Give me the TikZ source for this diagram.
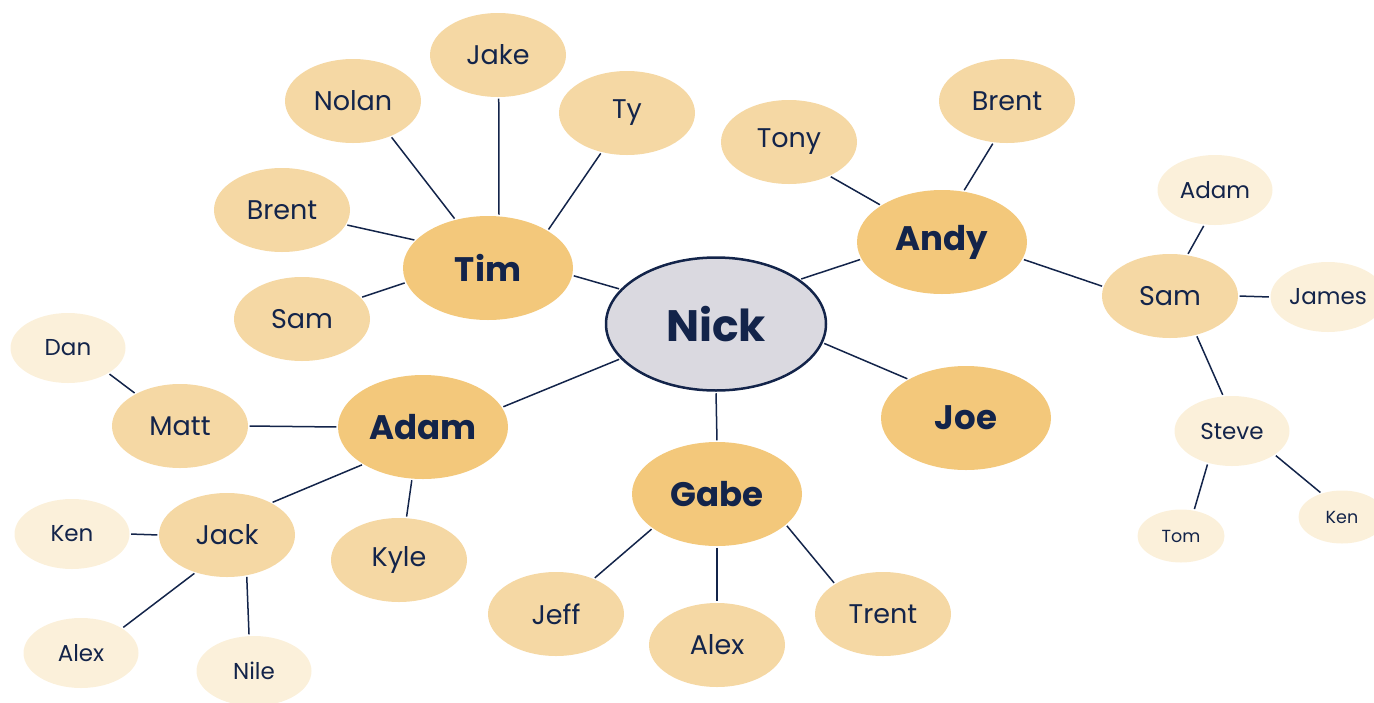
\documentclass[tikz,border=0pt]{standalone}
\usepackage{fontspec}
\setmainfont{Poppins}
\usetikzlibrary{shapes.geometric}
\definecolor{navy}{HTML}{13244A}
\definecolor{nickfill}{HTML}{DAD9E0}
\definecolor{lvlone}{HTML}{F3C87B}
\definecolor{lvltwo}{HTML}{F5D8A4}
\definecolor{lvlthree}{HTML}{FBF0DA}
\tikzset{
  bub/.style={ellipse, inner sep=0pt, text=navy, draw=none},
  nickbox/.style={bub, fill=nickfill, draw=navy, line width=2.5pt, minimum width=220pt, minimum height=133pt, font=\fontsize{44}{50}\selectfont\bfseries},
  onebox/.style={bub, fill=lvlone, minimum width=170pt, minimum height=104pt, font=\fontsize{34}{40}\selectfont\bfseries},
  twobox/.style={bub, fill=lvltwo, minimum width=136pt, minimum height=84pt, font=\fontsize{27}{32}\selectfont},
  threebox/.style={bub, fill=lvlthree, minimum width=115pt, minimum height=70pt, font=\fontsize{23}{28}\selectfont},
  smallbox/.style={bub, fill=lvlthree, minimum width=87pt, minimum height=53pt, font=\fontsize{17.5}{21}\selectfont},
  link/.style={draw=navy, line width=1.5pt, shorten >=1.5pt, shorten <=1.5pt}
}
\begin{document}
\begin{tikzpicture}[x=1pt,y=-1pt]
\useasboundingbox (0,0) rectangle (1374,702);
\clip (0,0) rectangle (1374,702);
% level 0
\node[nickbox] (nick) at (716,324) {Nick};
% level 1
\node[onebox] (tim) at (488,268) {Tim};
\node[onebox] (andy) at (942,242) {Andy};
\node[onebox] (adam) at (423,427) {Adam};
\node[onebox] (gabe) at (717,494) {Gabe};
\node[onebox] (joe) at (966,418) {Joe};
% level 2
\node[twobox] (nolan) at (353,101) {Nolan};
\node[twobox] (jake) at (498,55) {Jake};
\node[twobox] (ty) at (627,113) {Ty};
\node[twobox] (brentl) at (282,210) {Brent};
\node[twobox] (saml) at (302,319) {Sam};
\node[twobox] (tony) at (789,142) {Tony};
\node[twobox] (brentr) at (1007,101) {Brent};
\node[twobox] (samr) at (1170,296) {Sam};
\node[twobox] (matt) at (180,426) {Matt};
\node[twobox] (jack) at (227,535) {Jack};
\node[twobox] (kyle) at (399,560) {Kyle};
\node[twobox] (jeff) at (556,614) {Jeff};
\node[twobox] (alexg) at (717,645) {Alex};
\node[twobox] (trent) at (883,614) {Trent};
% level 3
\node[threebox] (dan) at (68,348) {Dan};
\node[threebox] (kenl) at (72,534) {Ken};
\node[threebox] (alexl) at (81,653) {Alex};
\node[threebox] (nile) at (254,671) {Nile};
\node[threebox] (adamr) at (1215,190) {Adam};
\node[threebox] (james) at (1328,297) {James};
\node[threebox] (steve) at (1232,431) {Steve};
\node[smallbox] (tom) at (1181,536) {Tom};
\node[smallbox] (kenr) at (1342,517) {Ken};
% connectors
\draw[link] (tim.-5) -- (nick.160);
\draw[link] (andy.192) -- (nick.28);
\draw[link] (adam.14) -- (nick.200);
\draw[link] (gabe.north) -- (nick.south);
\draw[link] (joe.146) -- (nick.-10);
\draw[link] (tim.124) -- (nolan.-43);
\draw[link] (tim.78) -- (jake.-89);
\draw[link] (tim.32) -- (ty.237);
\draw[link] (tim.159) -- (brentl.-13);
\draw[link] (tim.190) -- (saml.20);
\draw[link] (andy.149) -- (tony.-40);
\draw[link] (andy.67) -- (brentr.252);
\draw[link] (andy.-12) -- (samr.172);
\draw[link] (samr.67) -- (adamr.253);
\draw[link] (samr.east) -- (james.west);
\draw[link] (samr.-56) -- (steve.104);
\draw[link] (steve.233) -- (tom.63);
\draw[link] (steve.-29) -- (kenr.131);
\draw[link] (adam.west) -- (matt.east);
\draw[link] (adam.212) -- (jack.36);
\draw[link] (adam.258) -- (kyle.80);
\draw[link] (matt.144) -- (dan.-32);
\draw[link] (jack.west) -- (kenl.east);
\draw[link] (jack.230) -- (alexl.31);
\draw[link] (jack.-64) -- (nile.98);
\draw[link] (gabe.208) -- (jeff.43);
\draw[link] (gabe.south) -- (alexg.north);
\draw[link] (gabe.-24) -- (trent.148);
\end{tikzpicture}
\end{document}
